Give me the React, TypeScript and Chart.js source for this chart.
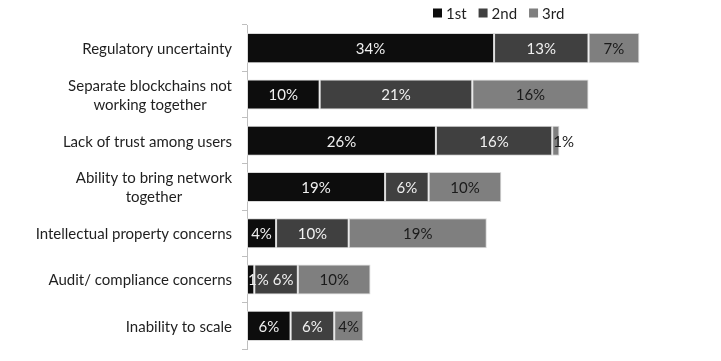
import React, { useEffect, useRef } from "react";
import { Chart, registerables } from "chart.js";
Chart.register(...registerables);

const categories: string[][] = [
  ["Regulatory uncertainty"],
  ["Separate blockchains not", "working together"],
  ["Lack of trust among users"],
  ["Ability to bring network", "together"],
  ["Intellectual property concerns"],
  ["Audit/ compliance concerns"],
  ["Inability to scale"],
];
const seriesNames = ["1st", "2nd", "3rd"];
const firstValues = [34, 10, 26, 19, 4, 1, 6];
const secondValues = [13, 21, 16, 6, 10, 6, 6];
const thirdValues = [7, 16, 1, 10, 19, 10, 4];

const seriesColors = ["#0d0d0d", "#404040", "#7f7f7f"];
const labelColors = ["#f0f0f0", "#f0f0f0", "#1a1a1a"];
const FONT = "15px Lato";
const TEXT = "#1f1f1f";

const labelPlugin = {
  id: "barLabels",
  afterDatasetsDraw(chart: any) {
    const ctx = chart.ctx;
    ctx.save();
    ctx.font = FONT;
    ctx.textBaseline = "middle";
    ctx.textAlign = "left";
    const n = chart.data.labels.length;
    for (let j = 0; j < n; j++) {
      let prevRight = -Infinity;
      chart.data.datasets.forEach((ds: any, i: number) => {
        const bar = chart.getDatasetMeta(i).data[j];
        const { x, y, base } = bar.getProps(["x", "y", "base"], true);
        const left = Math.min(x, base);
        const right = Math.max(x, base);
        const w = right - left;
        const text = ds.data[j] + "%";
        const tw = ctx.measureText(text).width;
        let tx = tw > w - 2 ? left + 1 : (left + right) / 2 - tw / 2;
        if (tx < prevRight + 4) tx = prevRight + 4;
        prevRight = tx + tw;
        ctx.fillStyle = labelColors[i];
        ctx.fillText(text, tx, y + 1);
      });
    }
    ctx.restore();
  },
};

const axisLabelPlugin = {
  id: "axisLabels",
  afterDraw(chart: any) {
    const ctx = chart.ctx;
    const ys = chart.scales.y;
    ctx.save();
    ctx.font = FONT;
    ctx.fillStyle = TEXT;
    ctx.textBaseline = "middle";
    ctx.textAlign = "center";
    const lh = 19;
    categories.forEach((lines, j) => {
      const py = ys.getPixelForValue(j);
      const maxW = Math.max(...lines.map((l) => ctx.measureText(l).width));
      const cx = ys.right - 15 - maxW / 2;
      const y0 = py - ((lines.length - 1) * lh) / 2;
      lines.forEach((l, k) => ctx.fillText(l, cx, y0 + k * lh + 1));
    });
    ctx.restore();
  },
};

const legendPlugin = {
  id: "customLegend",
  afterDraw(chart: any) {
    const ctx = chart.ctx;
    ctx.save();
    ctx.font = FONT;
    ctx.textBaseline = "middle";
    ctx.textAlign = "left";
    let x = 433;
    const y = 13;
    seriesNames.forEach((name, i) => {
      ctx.fillStyle = seriesColors[i];
      ctx.fillRect(x, y - 4.5, 9, 9);
      x += 13;
      ctx.fillStyle = TEXT;
      ctx.fillText(name, x, y + 1);
      x += ctx.measureText(name).width + 12;
    });
    ctx.restore();
  },
};

export default function App() {
  const ref = useRef<HTMLCanvasElement>(null);
  useEffect(() => {
    if (!ref.current) return;
    const values = [firstValues, secondValues, thirdValues];
    const chart = new Chart(ref.current, {
      type: "bar",
      data: {
        labels: categories.map((c) => c.join(" ")),
        datasets: seriesNames.map((name, i) => ({
          label: name,
          data: values[i],
          backgroundColor: seriesColors[i],
          borderColor: "#d9d9d9",
          borderWidth: 1,
          borderSkipped: false,
          barPercentage: 0.65,
          categoryPercentage: 1,
        })),
      },
      options: {
        indexAxis: "y",
        responsive: false,
        animation: false,
        devicePixelRatio: 1,
        layout: { padding: { top: 25, bottom: 12, left: 0, right: 38 } },
        plugins: { legend: { display: false }, tooltip: { enabled: false } },
        scales: {
          x: { stacked: true, display: false, min: 0, max: 60 },
          y: {
            stacked: true,
            grid: {
              drawOnChartArea: false,
              drawTicks: true,
              tickLength: 5,
              color: "#bfbfbf",
              offset: true,
            },
            border: { display: true, color: "#bfbfbf" },
            ticks: { callback: () => "" },
            afterFit: (s: any) => {
              s.width = 247;
            },
          },
        },
      },
      plugins: [labelPlugin, axisLabelPlugin, legendPlugin],
    } as any);
    return () => chart.destroy();
  }, []);
  return (
    <div style={{ position: "absolute", left: 0, top: 0, width: 721, height: 361, background: "#fff" }}>
      <canvas ref={ref} width={721} height={361} />
    </div>
  );
}
